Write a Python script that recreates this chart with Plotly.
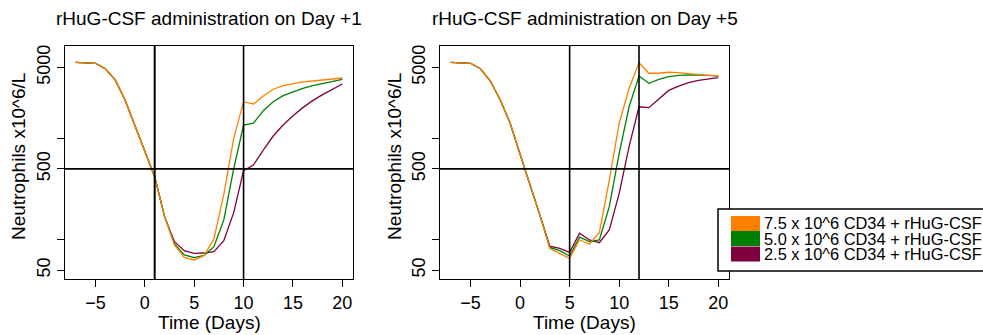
import plotly.graph_objects as go

days = list(range(-7, 21))
series_names = ["7.5 x 10^6 CD34 + rHuG-CSF",
                "5.0 x 10^6 CD34 + rHuG-CSF",
                "2.5 x 10^6 CD34 + rHuG-CSF"]
series_colors = ["#FF8000", "#008000", "#80003F"]

# Panel 1: rHuG-CSF on Day +1
p1_orange = [5625, 5600, 5500, 4860, 3770, 2390, 1356, 740, 419, 169,
             88.7, 67, 63.2, 69.7, 102, 280, 1000, 2300, 2180, 2620,
             3050, 3310, 3460, 3600, 3680, 3770, 3850, 3940]
p1_green = [5625, 5600, 5500, 4860, 3770, 2390, 1356, 740, 419, 169,
            90.8, 70.8, 66.6, 70, 85.5, 157, 500, 1355, 1410, 1875,
            2300, 2640, 2890, 3120, 3310, 3490, 3660, 3820]
p1_maroon = [5625, 5600, 5500, 4860, 3770, 2390, 1356, 740, 419, 169,
             95.7, 78, 73.5, 74, 76.4, 98, 185, 480, 546, 767,
             1055, 1355, 1675, 2010, 2355, 2700, 3070, 3435]

# Panel 2: rHuG-CSF on Day +5
p2_orange = [5625, 5600, 5500, 4860, 3680, 2390, 1410, 697, 355, 175,
             82, 73.6, 65.6, 99.5, 90.8, 117.5, 385, 1410, 3120, 5570,
             4390, 4390, 4490, 4450, 4315, 4250, 4190, 4150]
p2_green = [5625, 5600, 5500, 4860, 3680, 2390, 1410, 697, 355, 175,
            84, 78, 69.2, 106, 95.7, 99.5, 212, 713, 2050, 4120,
            3490, 3820, 4060, 4190, 4220, 4220, 4190, 4120]
p2_maroon = [5625, 5600, 5500, 4860, 3680, 2390, 1410, 697, 355, 175,
             86.5, 82.4, 75.1, 116, 99.5, 93.5, 125, 287, 828, 2050,
             2010, 2450, 2970, 3280, 3540, 3740, 3880, 3970]

titles = ["rHuG-CSF administration on Day +1", "rHuG-CSF administration on Day +5"]
vlines = [[1, 10], [5, 12]]
hline_value = 500
x_ticks = [-5, 0, 5, 10, 15, 20]
y_tickvals = [50, 100, 500, 1000, 5000]
y_ticktext = ["50", "", "500", "", "5000"]
x_title = "Time (Days)"
y_title = "Neutrophils x10^6/L"

W, H = 983, 335
FONT = "Liberation Sans, Arial, sans-serif"

def px_x(p):
    return p / W

def px_y(p):
    return 1 - p / H

fig = go.Figure()

panels = [
    ("x", "y", [p1_maroon, p1_green, p1_orange]),
    ("x2", "y2", [p2_maroon, p2_green, p2_orange]),
]
order_colors = [series_colors[2], series_colors[1], series_colors[0]]
for xa, ya, data in panels:
    for vals, col in zip(data, order_colors):
        fig.add_trace(go.Scatter(x=days, y=vals, mode="lines", xaxis=xa, yaxis=ya,
                                 line=dict(color=col, width=1.3), showlegend=False,
                                 hoverinfo="skip"))

domains_x = [[px_x(65), px_x(353)], [px_x(440), px_x(729)]]
domain_y = [px_y(279), px_y(46)]

axis_common = dict(showline=True, linecolor="black", linewidth=1, mirror=True,
                   ticks="outside", ticklen=7, tickwidth=1, tickcolor="black",
                   showgrid=False, zeroline=False,
                   tickfont=dict(family=FONT, size=18, color="black"))

for i, (xa, ya) in enumerate([("xaxis", "yaxis"), ("xaxis2", "yaxis2")]):
    fig.update_layout({
        xa: dict(domain=domains_x[i], range=[-8.08, 21.08], tickvals=x_ticks,
                 anchor="y" if i == 0 else "y2", **axis_common),
        ya: dict(domain=domain_y, type="log", range=[1.613, 3.911],
                 tickvals=y_tickvals, ticktext=y_ticktext, tickangle=-90,
                 anchor="x" if i == 0 else "x2", **axis_common),
    })

# reference lines
for i, vl in enumerate(vlines):
    xr = "x" if i == 0 else "x2"
    yr = "y" if i == 0 else "y2"
    for v in vl:
        fig.add_shape(type="line", xref=xr, yref=yr + " domain", x0=v, x1=v, y0=0, y1=1,
                      line=dict(color="black", width=2 if v == 1 else 1.6))
    fig.add_shape(type="line", xref=xr + " domain", yref=yr, x0=0, x1=1,
                  y0=hline_value, y1=hline_value, line=dict(color="black", width=1.6))

# titles and axis titles
centers = [(65 + 353) / 2, (440 + 729) / 2]
ylab_x = [18, 394]
for i in range(2):
    fig.add_annotation(text=titles[i], xref="paper", yref="paper",
                       x=px_x(centers[i]), y=px_y(18), showarrow=False,
                       xanchor="center", yanchor="middle",
                       font=dict(family=FONT, size=19, color="black"))
    fig.add_annotation(text=x_title, xref="paper", yref="paper",
                       x=px_x(centers[i]), y=px_y(322), showarrow=False,
                       xanchor="center", yanchor="middle",
                       font=dict(family=FONT, size=19, color="black"))
    fig.add_annotation(text=y_title, xref="paper", yref="paper",
                       x=px_x(ylab_x[i]), y=px_y(157), showarrow=False, textangle=-90,
                       xanchor="center", yanchor="middle",
                       font=dict(family=FONT, size=19, color="black"))

# legend box
fig.add_shape(type="rect", xref="paper", yref="paper", x0=px_x(718), x1=px_x(995),
              y0=px_y(271), y1=px_y(209), line=dict(color="black", width=1.5),
              fillcolor="white", layer="above")
row_tops = [216, 231, 246.5]
for k in range(3):
    fig.add_shape(type="rect", xref="paper", yref="paper", x0=px_x(731), x1=px_x(760),
                  y0=px_y(row_tops[k] + 15), y1=px_y(row_tops[k]),
                  line=dict(width=0), fillcolor=series_colors[k], layer="above")
    fig.add_annotation(text=series_names[k], xref="paper", yref="paper",
                       x=px_x(762), y=px_y(row_tops[k] + 7.5), showarrow=False,
                       xanchor="left", yanchor="middle",
                       font=dict(family=FONT, size=16.4, color="black"))

fig.update_layout(width=W, height=H, autosize=False,
                  margin=dict(l=0, r=0, t=0, b=0),
                  paper_bgcolor="white", plot_bgcolor="white", showlegend=False)

fig.write_html("out.html")
